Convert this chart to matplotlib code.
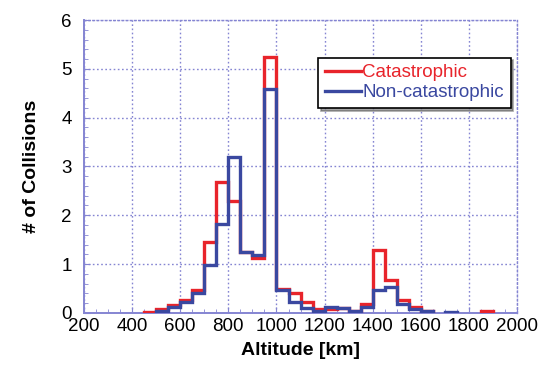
import matplotlib

matplotlib.use("Agg")

import matplotlib.pyplot as plt
import numpy as np
from matplotlib.ticker import MultipleLocator

plt.rcParams["font.family"] = ["Liberation Sans", "DejaVu Sans"]

# bin left edges (km), 50 km wide
bin_starts = [450, 500, 550, 600, 650, 700, 750, 800, 850, 900, 950, 1000, 1050, 1100, 1150,
              1200, 1250, 1300, 1350, 1400, 1450, 1500, 1550, 1600, 1650, 1700, 1750, 1800, 1850]
bin_width = 50

catastrophic = [0.02, 0.08, 0.15, 0.26, 0.46, 1.45, 2.69, 2.30, 1.25, 1.12, 5.25, 0.49, 0.40, 0.22, 0.07,
                0.08, 0.09, 0.03, 0.18, 1.28, 0.68, 0.27, 0.12, 0.03, None, None, None, None, 0.03]
non_catastrophic = [None, 0.04, 0.12, 0.23, 0.41, 0.99, 1.81, 3.20, 1.25, 1.18, 4.58, 0.46, 0.22, 0.09, 0.03,
                    0.12, 0.09, 0.03, 0.12, 0.46, 0.53, 0.18, 0.07, 0.03, None, 0.02, None, None, None]

RED = "#e8242b"
BLUE = "#3a48a0"
GRID = "#8585d2"


def _to_array(values):
    return np.array([np.nan if v is None else v for v in values], dtype=float)


def _draw_series(ax, values, color, label):
    values = _to_array(values)
    edges = np.array(bin_starts + [bin_starts[-1] + bin_width], dtype=float)
    # draw each contiguous run of non-empty bins separately
    runs = []
    run = []
    for i, v in enumerate(values):
        if np.isnan(v):
            if run:
                runs.append(run)
                run = []
        else:
            run.append(i)
    if run:
        runs.append(run)
    for k, run in enumerate(runs):
        ax.stairs(values[run[0]:run[-1] + 1], edges[run[0]:run[-1] + 2], color=color,
                  linewidth=2.4, baseline=0, label=label if k == 0 else None, zorder=3)


fig = plt.figure(figsize=(5.42, 3.65), dpi=100)
ax = fig.add_axes([0.155, 0.143, 0.799, 0.802])

_draw_series(ax, catastrophic, RED, "Catastrophic")
_draw_series(ax, non_catastrophic, BLUE, "Non-catastrophic")

ax.set_xlim(200, 2000)
ax.set_ylim(0, 6)
ax.xaxis.set_major_locator(MultipleLocator(200))
ax.xaxis.set_minor_locator(MultipleLocator(50))
ax.yaxis.set_major_locator(MultipleLocator(1))
ax.yaxis.set_minor_locator(MultipleLocator(0.2))
ax.grid(True, which="major", color=GRID, linestyle=(0, (1.2, 1.8)), linewidth=1.0)
ax.tick_params(which="both", direction="in", color=GRID, labelsize=13.5)
ax.tick_params(which="major", length=4)
ax.tick_params(which="minor", length=3)
ax.tick_params(axis="y", pad=9)
ax.tick_params(axis="x", pad=4)
for spine in ax.spines.values():
    spine.set_color(GRID)
    spine.set_linewidth(1.0)
    spine.set_linestyle((0, (1.2, 1.8)))
ax.spines["left"].set_linestyle("-")
ax.spines["left"].set_linewidth(1.4)
ax.spines["bottom"].set_linestyle("-")
ax.spines["bottom"].set_linewidth(1.4)

ax.set_xlabel("Altitude [km]", fontsize=14, fontweight="bold", labelpad=5)
ax.set_ylabel("# of Collisions", fontsize=14, fontweight="bold", labelpad=15)

leg = ax.legend(loc="upper right", bbox_to_anchor=(0.985, 0.872), fontsize=13.5, frameon=True,
                fancybox=False, shadow=True, handlelength=1.9, handletextpad=0.1,
                borderpad=0.35, labelspacing=0.15, borderaxespad=0)
leg.get_frame().set_edgecolor("black")
leg.get_frame().set_linewidth(1.2)
for text, color in zip(leg.get_texts(), [RED, BLUE]):
    text.set_color(color)

fig.savefig("out.png", dpi=100)
plt.close(fig)
